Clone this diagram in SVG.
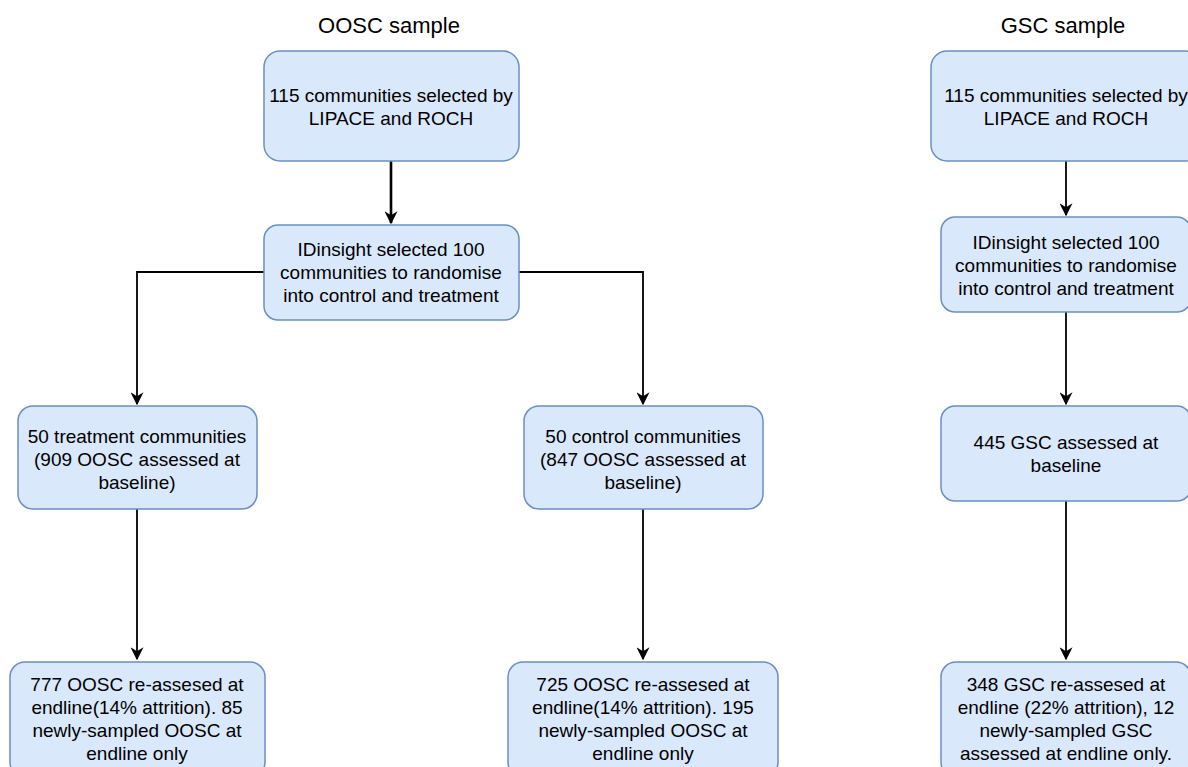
<svg xmlns="http://www.w3.org/2000/svg" width="1188" height="767" viewBox="0 0 1188 767">
<defs>
<style>
.box{fill:#dae8fc;stroke:#6c8ebf;stroke-width:1.5}
.t{font-family:"Liberation Sans",Arial,sans-serif;font-size:19px;fill:#000;text-anchor:middle}
.h{font-size:22px}
.c{fill:none;stroke:#000;stroke-width:1.8}
</style>
<marker id="ah" viewBox="0 0 10 10" refX="9" refY="5" markerWidth="13" markerHeight="13" markerUnits="userSpaceOnUse" orient="auto">
<path d="M0,0 L10,5 L0,10 L3,5 Z" fill="#000"/>
</marker>
</defs>
<rect width="1188" height="767" fill="#fff"/>
<g id="titles">
<text class="t h" x="389" y="33">OOSC sample</text>
<text class="t h" x="1063" y="33">GSC sample</text>
</g>
<g id="connectors">
<path class="c" style="stroke-width:2.6" d="M391,161 V223" marker-end="url(#ah)"/>
<path class="c" d="M264,272 H137 V404" marker-end="url(#ah)"/>
<path class="c" d="M519,272 H643 V404" marker-end="url(#ah)"/>
<path class="c" d="M137,509 V659" marker-end="url(#ah)"/>
<path class="c" d="M643,509 V659" marker-end="url(#ah)"/>
<path class="c" d="M1066,161 V215" marker-end="url(#ah)"/>
<path class="c" d="M1066,312 V404" marker-end="url(#ah)"/>
<path class="c" d="M1066,501 V659" marker-end="url(#ah)"/>
</g>
<g id="oosc-select">
<rect class="box" x="264" y="51" width="255" height="110" rx="16"/>
<text class="t" x="391" y="102">115 communities selected by</text>
<text class="t" x="391" y="125">LIPACE and ROCH</text>
</g>
<g id="oosc-random">
<rect class="box" x="264" y="225" width="255" height="95" rx="14"/>
<text class="t" x="391" y="256">IDinsight selected 100</text>
<text class="t" x="391" y="279">communities to randomise</text>
<text class="t" x="391" y="302">into control and treatment</text>
</g>
<g id="treatment">
<rect class="box" x="18" y="406" width="239" height="103" rx="15"/>
<text class="t" x="137" y="443">50 treatment communities</text>
<text class="t" x="137" y="466">(909 OOSC assessed at</text>
<text class="t" x="137" y="489">baseline)</text>
</g>
<g id="control">
<rect class="box" x="524" y="406" width="239" height="103" rx="15"/>
<text class="t" x="643" y="443">50 control communities</text>
<text class="t" x="643" y="466">(847 OOSC assessed at</text>
<text class="t" x="643" y="489">baseline)</text>
</g>
<g id="treatment-endline">
<rect class="box" x="10" y="662" width="255" height="115" rx="15"/>
<text class="t" x="137" y="691">777 OOSC re-assesed at</text>
<text class="t" x="137" y="714">endline(14% attrition). 85</text>
<text class="t" x="137" y="737">newly-sampled OOSC at</text>
<text class="t" x="137" y="760">endline only</text>
</g>
<g id="control-endline">
<rect class="box" x="508" y="662" width="270" height="115" rx="15"/>
<text class="t" x="643" y="691">725 OOSC re-assesed at</text>
<text class="t" x="643" y="714">endline(14% attrition). 195</text>
<text class="t" x="643" y="737">newly-sampled OOSC at</text>
<text class="t" x="643" y="760">endline only</text>
</g>
<g id="gsc-select">
<rect class="box" x="931" y="51" width="270" height="110" rx="16"/>
<text class="t" x="1066" y="102">115 communities selected by</text>
<text class="t" x="1066" y="125">LIPACE and ROCH</text>
</g>
<g id="gsc-random">
<rect class="box" x="941" y="217" width="250" height="95" rx="14"/>
<text class="t" x="1066" y="249">IDinsight selected 100</text>
<text class="t" x="1066" y="272">communities to randomise</text>
<text class="t" x="1066" y="295">into control and treatment</text>
</g>
<g id="gsc-baseline">
<rect class="box" x="941" y="406" width="250" height="95" rx="14"/>
<text class="t" x="1066" y="449">445 GSC assessed at</text>
<text class="t" x="1066" y="472">baseline</text>
</g>
<g id="gsc-endline">
<rect class="box" x="941" y="662" width="250" height="115" rx="15"/>
<text class="t" x="1066" y="691">348 GSC re-assesed at</text>
<text class="t" x="1066" y="714">endline (22% attrition), 12</text>
<text class="t" x="1066" y="737">newly-sampled GSC</text>
<text class="t" x="1066" y="760">assessed at endline only.</text>
</g>
</svg>
